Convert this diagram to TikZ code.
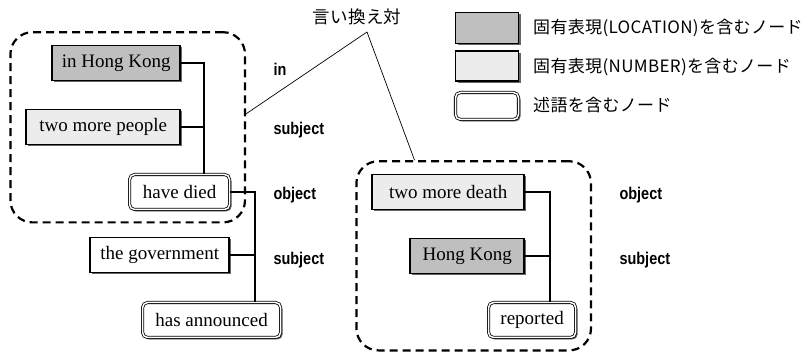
\documentclass[tikz,border=0pt]{standalone}
\usepackage{fontspec}
\setmainfont{Liberation Serif}
\setsansfont{Liberation Sans}
\newfontfamily\jpfont[LetterSpace=2]{Noto Sans CJK JP}
\usetikzlibrary{shadows,fit,calc}

\newcommand{\relname}[1]{\scalebox{0.85}[1]{#1}}

\tikzset{
  phrase/.style={draw, line width=1.6pt, minimum height=35pt, inner xsep=4pt,
    font=\fontsize{19}{21}\selectfont,
    drop shadow={shadow xshift=2pt, shadow yshift=-2pt, fill=black, opacity=.6}},
  locnode/.style={phrase, fill=gray!50},
  numnode/.style={phrase, fill=gray!15},
  plainnode/.style={phrase, fill=white},
  prednode/.style={phrase, fill=white, line width=0.8pt, double, double distance=1.5pt,
    rounded corners=5pt},
  dep/.style={line width=1.6pt},
  rel/.style={anchor=west, font=\sffamily\bfseries\fontsize{17}{19}\selectfont},
  group/.style={draw, dash pattern=on 8pt off 5pt, line width=2.2pt,
    rounded corners=22pt, inner xsep=15pt, inner ysep=12.5pt},
  pairline/.style={line width=0.7pt},
  keytext/.style={anchor=west, inner xsep=0pt, font=\jpfont\fontsize{17}{19}\selectfont},
}

\begin{document}
\begin{tikzpicture}[x=1pt,y=1pt,yscale=-1,xscale=1]
\useasboundingbox (0,0) rectangle (808,352);

% left tree
\node[locnode, anchor=east, minimum width=128] (inhk) at (181,63) {in Hong Kong};
\node[numnode, anchor=east, minimum width=154] (people) at (181,127) {two more people};
\node[prednode, anchor=east, minimum width=100] (died) at (230,192) {have died};
\node[plainnode, anchor=east, minimum width=139] (gov) at (230,255) {the government};
\node[prednode, anchor=east, minimum width=138] (announced) at (281,320) {has announced};

% right tree
\node[numnode, anchor=east, minimum width=152] (death) at (525,192) {two more death};
\node[locnode, anchor=east, minimum width=114] (hkr) at (525,256) {Hong Kong};
\node[prednode, anchor=east, minimum width=87] (reported) at (576,320) {reported};

% junctions
\coordinate (j1) at ($(died.north east)+(-26,0)$);
\coordinate (j2) at ($(announced.north east)+(-26,0)$);
\coordinate (j3) at ($(reported.north east)+(-26,0)$);

% dependencies
\draw[dep] (inhk.east) -| (j1);
\draw[dep] (people.east) -- (people.east -| j1);
\draw[dep] (died.east) -| (j2);
\draw[dep] (gov.east) -- (gov.east -| j2);
\draw[dep] (death.east) -| (j3);
\draw[dep] (hkr.east) -- (hkr.east -| j3);

% relation labels
\node[rel] (relin) at (270,69) {\relname{in}};
\node[rel] (relsubj) at (270,130) {\relname{subject}};
\node[rel] (relobj) at (270,195) {\relname{object}};
\node[rel] (relsubjb) at (270,260) {\relname{subject}};
\node[rel] (relobjr) at (616,195) {\relname{object}};
\node[rel] (relsubjr) at (616,260) {\relname{subject}};

% paraphrase groups
\node[group, fit=(inhk)(people)(died)] (grpleft) {};
\node[group, fit=(death)(hkr)(reported)] (grpright) {};

% paraphrase pair
\node[font=\jpfont\fontsize{17.5}{19}\selectfont] (pair) at (357,17) {言い換え対};
\coordinate (apex) at (367,32);
\draw[pairline] (apex) -- ($(grpleft.north east)!0.43!(grpleft.south east)$);
\draw[pairline] (apex) -- ($(grpright.north west)!0.25!(grpright.north east)$);

% legend
\node[locnode, minimum width=63, minimum height=31] (keyloc) at (487,28) {};
\node[numnode, minimum width=63, minimum height=30] (keynum) at (487,66) {};
\node[prednode, minimum width=63, minimum height=27] (keypred) at (487,106) {};
\node[keytext] (keyloctext) at (533,28) {固有表現(LOCATION)を含むノード};
\node[keytext] (keynumtext) at (533,67) {固有表現(NUMBER)を含むノード};
\node[keytext] (keypredtext) at (533,105) {述語を含むノード};

\end{tikzpicture}
\end{document}
